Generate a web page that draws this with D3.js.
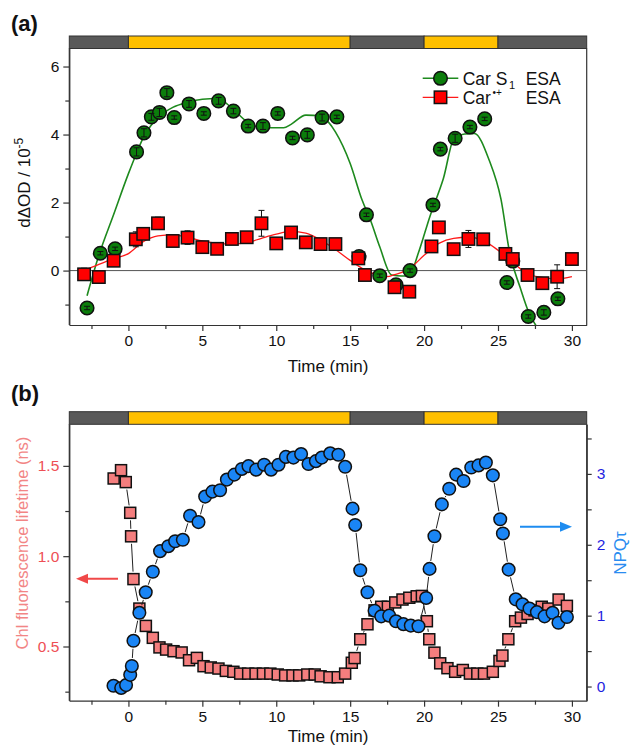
<!DOCTYPE html>
<html><head><meta charset="utf-8">
<script src="https://cdn.jsdelivr.net/npm/d3@7"></script>
<style>
html,body{margin:0;padding:0;background:#fff;}
svg{display:block;font-family:"Liberation Sans",Arial,Helvetica,sans-serif;}
</style></head>
<body>
<svg id="chart" width="639" height="748"></svg>
<script>
// ---------------- DATA ----------------
// light / dark periods (min)
const periodStart = [-4, 0, 15, 20, 25];
const periodEnd   = [0, 15, 20, 25, 31];
const periodLight = [false, true, false, true, false];

// Panel (a): Car S1 ESA (green circles)
const s1T   = [-2.8, -1.9, -0.9, 0.55, 1.05, 1.55, 2.1, 2.6, 3.1, 4.1, 5.1, 6.1, 7.1, 8.1, 9.1, 10.1, 11.1, 12.1, 13.1, 14.1, 15.6, 16.1, 17.0, 18.1, 19.05, 20.6, 21.1, 22.1, 23.1, 24.1, 25.6, 26.0, 27.05, 28.1, 29.05];
const s1V   = [-1.10, 0.51, 0.64, 3.49, 4.05, 4.52, 4.65, 5.23, 4.50, 4.90, 4.62, 4.99, 4.69, 4.25, 4.25, 4.62, 3.90, 3.99, 4.50, 4.52, 0.41, 1.64, -0.15, -0.42, 0.0, 1.93, 3.57, 3.89, 4.22, 4.46, -0.35, 0.28, -1.35, -1.23, -0.83];
const s1Err = [0.05, 0.05, 0.05, 0.12, 0.12, 0.1, 0.12, 0.12, 0.05, 0.1, 0.05, 0.1, 0.08, 0.05, 0.1, 0.05, 0.05, 0.1, 0.1, 0.05, 0.05, 0.05, 0.05, 0.08, 0.05, 0.05, 0.05, 0.12, 0.05, 0.05, 0.05, 0.05, 0.05, 0.08, 0.05];
// fitted curve for S1
const s1FitT = [-2.8, -2, -1, 0, 0.5, 1, 1.5, 2, 3, 4, 5, 6, 7, 8, 9, 10, 10.5, 11, 12, 13, 13.5, 14, 15, 15.8, 16.4, 17, 17.8, 18.5, 19, 19.6, 20.4, 21.3, 22.1, 23.4, 24.4, 25.2, 25.8, 26.5, 27.1, 27.7];
const s1FitV = [-0.74, 0.45, 1.65, 2.85, 3.4, 3.9, 4.25, 4.5, 4.8, 4.95, 5.04, 5.06, 4.78, 4.38, 4.2, 4.2, 4.2, 4.3, 4.57, 4.55, 4.38, 4.08, 3.15, 2.08, 1.45, 0.7, -0.13, -0.16, -0.15, 0.5, 1.6, 2.7, 3.96, 4.03, 3.25, 2.1, 0.5, -0.5, -1.25, -1.7];

// Panel (a): Car•+ ESA (red squares)
const catT   = [-3.0, -2.0, -1.0, 0.5, 1.0, 2.0, 3.0, 4.0, 5.0, 6.0, 7.0, 8.0, 9.0, 10.0, 11.0, 12.0, 13.0, 14.0, 15.55, 16.0, 18.0, 19.0, 20.5, 21.0, 22.0, 23.0, 24.0, 25.5, 26.0, 27.0, 28.0, 29.0, 30.0];
const catV   = [-0.11, -0.19, 0.29, 0.92, 1.08, 1.39, 0.87, 0.97, 0.69, 0.64, 0.93, 0.98, 1.39, 0.80, 1.12, 0.83, 0.78, 0.78, 0.36, -0.13, -0.49, -0.62, 0.71, 1.27, 0.63, 0.93, 0.92, 0.49, 0.34, -0.13, -0.37, -0.18, 0.34];
const catErr = [0.18, 0.1, 0.15, 0.22, 0.15, 0.18, 0.12, 0.2, 0.1, 0.1, 0.1, 0.1, 0.38, 0.1, 0.1, 0.1, 0.08, 0.15, 0.15, 0.1, 0.12, 0.08, 0.08, 0.12, 0.08, 0.25, 0.1, 0.1, 0.15, 0.08, 0.1, 0.35, 0.08];
const catFitT = [-3, -2, -1, 0, 1, 2, 3, 4, 5, 6, 7, 8, 9, 10, 11, 12, 13, 14, 15, 16, 17, 17.5, 18, 19, 20, 21, 22, 23, 24, 25, 26, 27, 28, 29, 30];
const catFitV = [0.0, 0.18, 0.35, 0.5, 0.85, 1.02, 1.05, 0.98, 0.87, 0.8, 0.78, 0.82, 0.95, 1.07, 1.15, 1.1, 0.9, 0.62, 0.3, 0.02, -0.15, -0.18, -0.12, 0.05, 0.45, 0.8, 0.95, 0.98, 0.88, 0.6, 0.25, -0.1, -0.2, -0.25, -0.18];

// Panel (b): Chl fluorescence lifetime (ns)
const lifeT = [-1.0, -0.5, -0.18, 0.12, 0.18, 0.34, 0.74, 1.18, 1.65, 2.1, 2.55, 3.05, 3.6, 4.1, 4.63, 5.08, 5.57, 6.09, 6.59, 7.1, 7.56, 8.1, 8.6, 9.1, 9.6, 10.1, 10.6, 11.1, 11.55, 12.1, 12.6, 13.0, 13.6, 14.16, 14.66, 15.11, 15.3, 15.68, 16.17, 16.65, 17.1, 17.55, 18.05, 18.54, 19.0, 19.5, 19.85, 20.19, 20.35, 20.7, 21.09, 21.58, 22.1, 22.62, 23.1, 23.6, 24.05, 24.65, 25.1, 25.3, 25.7, 26.16, 26.55, 27.0, 27.47, 27.96, 28.4, 29.1, 29.66];
const lifeV = [1.43, 1.476, 1.41, 1.24, 1.11, 0.873, 0.71, 0.614, 0.548, 0.495, 0.483, 0.474, 0.467, 0.424, 0.437, 0.391, 0.384, 0.378, 0.365, 0.36, 0.35, 0.35, 0.35, 0.35, 0.35, 0.345, 0.34, 0.34, 0.34, 0.345, 0.345, 0.335, 0.33, 0.33, 0.35, 0.41, 0.436, 0.54, 0.623, 0.70, 0.72, 0.72, 0.744, 0.76, 0.77, 0.778, 0.78, 0.64, 0.54, 0.466, 0.407, 0.38, 0.36, 0.37, 0.35, 0.35, 0.35, 0.36, 0.42, 0.45, 0.54, 0.64, 0.66, 0.68, 0.70, 0.72, 0.71, 0.76, 0.725];

// Panel (b): NPQτ
const npqT = [-1.01, -0.49, -0.16, 0.12, 0.23, 0.34, 0.74, 1.17, 1.65, 2.14, 2.7, 3.16, 3.68, 4.17, 4.74, 5.19, 5.68, 6.2, 6.66, 7.17, 7.67, 8.12, 8.64, 9.18, 9.65, 10.15, 10.65, 11.16, 11.68, 12.18, 12.68, 13.08, 13.65, 14.2, 14.66, 15.16, 15.34, 15.68, 16.17, 16.65, 17.1, 17.64, 18.1, 18.6, 19.1, 19.62, 20.14, 20.37, 20.7, 21.2, 21.7, 22.17, 22.67, 23.19, 23.68, 24.18, 24.65, 25.15, 25.33, 25.72, 26.2, 26.66, 27.13, 27.63, 28.15, 28.69, 29.09, 29.66];
const npqV = [0.01, -0.02, 0.02, 0.165, 0.29, 0.645, 1.04, 1.33, 1.62, 1.91, 1.98, 2.05, 2.07, 2.41, 2.32, 2.68, 2.75, 2.77, 2.92, 2.99, 3.07, 3.11, 3.06, 3.13, 3.06, 3.13, 3.24, 3.23, 3.28, 3.14, 3.18, 3.23, 3.29, 3.27, 3.10, 2.51, 2.28, 1.64, 1.33, 1.07, 0.99, 1.0, 0.92, 0.88, 0.86, 0.85, 1.25, 1.66, 2.12, 2.57, 2.79, 2.99, 2.90, 3.09, 3.12, 3.16, 2.98, 2.36, 2.16, 1.65, 1.23, 1.16, 1.10, 1.05, 0.99, 1.04, 0.90, 0.98];

// ticks
const xMajor = [0, 5, 10, 15, 20, 25, 30];
const xMinor = [-2.5, 2.5, 7.5, 12.5, 17.5, 22.5, 27.5];
const aMajor = [0, 2, 4, 6];
const aMinor = [-1, 1, 3, 5];
const lifeMajor = [0.5, 1.0, 1.5];
const lifeMinor = [0.25, 0.75, 1.25];
const npqMajor = [0, 1, 2, 3];
const npqMinor = [0.5, 1.5, 2.5, 3.5];

// ---------------- DRAW ----------------
const svg = d3.select("#chart");
const L = 69.3, R = 586.7;
const x = d3.scaleLinear().domain([-4, 31]).range([L, R]);

const A = {top: 48.5, bottom: 325, barTop: 36};
const B = {top: 424.3, bottom: 700.7, barTop: 411.7};
const ya = d3.scaleLinear().domain([-1.6, 6.53]).range([A.bottom, A.top]);
const yl = d3.scaleLinear().domain([0.2, 1.73]).range([B.bottom, B.top]);
const yn = d3.scaleLinear().domain([-0.2, 3.7]).range([B.bottom, B.top]);

const axisCol = "#333";
const defs = svg.append("defs");
defs.append("clipPath").attr("id","clipA").append("rect")
  .attr("x", L).attr("y", A.top).attr("width", R-L).attr("height", A.bottom-A.top);

function styleAxis(g, color, fs) {
  g.selectAll("path").attr("stroke", axisCol).attr("stroke-width", 1.2);
  g.selectAll("line").attr("stroke", axisCol).attr("stroke-width", 1.2);
  g.selectAll("text").attr("fill", color).attr("font-size", fs)
   .attr("font-family", '"Liberation Sans",Arial,sans-serif');
}

function periodBar(top, bottom) {
  const g = svg.append("g");
  periodStart.forEach((s, i) => {
    g.append("rect").attr("x", x(s)).attr("y", top)
      .attr("width", x(periodEnd[i]) - x(s)).attr("height", bottom - top)
      .attr("fill", periodLight[i] ? "#FFC000" : "#595959")
      .attr("stroke", "#333").attr("stroke-width", 1);
  });
}

function xAxes(bottom) {
  const gM = svg.append("g").attr("transform", `translate(0,${bottom})`)
    .call(d3.axisBottom(x).tickValues(xMajor).tickSize(6).tickPadding(4).tickSizeOuter(0));
  styleAxis(gM, "#111", "15.5px");
  const gm = svg.append("g").attr("transform", `translate(0,${bottom})`)
    .call(d3.axisBottom(x).tickValues(xMinor).tickSize(4).tickFormat("").tickSizeOuter(0));
  styleAxis(gm, "#111", "15px");
  gm.select("path").remove();
}

function yAxisLeft(scale, major, minor, fmt, color) {
  const g = svg.append("g").attr("transform", `translate(${L},0)`)
    .call(d3.axisLeft(scale).tickValues(major).tickSize(6).tickPadding(4).tickSizeOuter(0).tickFormat(fmt));
  styleAxis(g, color, "15.5px");
  const g2 = svg.append("g").attr("transform", `translate(${L},0)`)
    .call(d3.axisLeft(scale).tickValues(minor).tickSize(4).tickFormat("").tickSizeOuter(0));
  styleAxis(g2, color, "15px"); g2.select("path").remove();
}
function yAxisRight(scale, major, minor, fmt, color) {
  const g = svg.append("g").attr("transform", `translate(${R},0)`)
    .call(d3.axisRight(scale).tickValues(major).tickSize(5).tickPadding(5).tickSizeOuter(0).tickFormat(fmt));
  styleAxis(g, color, "15.5px");
  const g2 = svg.append("g").attr("transform", `translate(${R},0)`)
    .call(d3.axisRight(scale).tickValues(minor).tickSize(5).tickFormat("").tickSizeOuter(0));
  styleAxis(g2, color, "15px"); g2.select("path").remove();
}

// ===== Panel (a) =====
svg.append("text").attr("x", 11).attr("y", 31).attr("font-size", "22px")
  .attr("font-weight", "bold").attr("fill", "#111").text("(a)");

svg.append("line").attr("x1", R).attr("x2", R).attr("y1", A.top).attr("y2", A.bottom)
  .attr("stroke", axisCol).attr("stroke-width", 1.2);
svg.append("line").attr("x1", L).attr("x2", R).attr("y1", ya(0)).attr("y2", ya(0))
  .attr("stroke", "#555").attr("stroke-width", 1);

xAxes(A.bottom);
yAxisLeft(ya, aMajor, aMinor, d3.format("d"), "#111");
svg.append("line").attr("x1", L).attr("x2", L).attr("y1", A.top).attr("y2", A.bottom)
  .attr("stroke", axisCol).attr("stroke-width", 1.2);
periodBar(A.barTop, A.top);

svg.append("text").attr("x", (L+R)/2).attr("y", 372).attr("text-anchor", "middle")
  .attr("font-size", "17px").attr("fill", "#111").text("Time (min)");
const ylabA = svg.append("text").attr("transform", `translate(30,${(A.top+A.bottom)/2 - 4}) rotate(-90)`)
  .attr("text-anchor", "middle").attr("font-size", "17px").attr("fill", "#111");
ylabA.append("tspan").text("dΔOD / 10");
ylabA.append("tspan").attr("dy", -7).attr("font-size", "12px").text("-5");

const plotA = svg.append("g").attr("clip-path", "url(#clipA)");
const lineA = d3.line().x(d => x(d[0])).y(d => ya(d[1])).curve(d3.curveMonotoneX);
plotA.append("path").datum(s1FitT.map((t, i) => [t, s1FitV[i]]))
  .attr("d", lineA).attr("fill", "none").attr("stroke", "#1E8A1E").attr("stroke-width", 1.6);
plotA.append("path").datum(catFitT.map((t, i) => [t, catFitV[i]]))
  .attr("d", lineA).attr("fill", "none").attr("stroke", "#FF1A1A").attr("stroke-width", 1.3);

function errBars(g, T, V, E, sc) {
  T.forEach((t, i) => {
    const cx = x(t), y1 = sc(V[i] - E[i]), y2 = sc(V[i] + E[i]);
    g.append("line").attr("x1", cx).attr("x2", cx).attr("y1", y1).attr("y2", y2)
      .attr("stroke", "#111").attr("stroke-width", 1);
    [y1, y2].forEach(yy => g.append("line").attr("x1", cx-3).attr("x2", cx+3)
      .attr("y1", yy).attr("y2", yy).attr("stroke", "#111").attr("stroke-width", 1));
  });
}

plotA.append("g").selectAll("circle").data(s1T).join("circle")
  .attr("cx", d => x(d)).attr("cy", (d, i) => ya(s1V[i])).attr("r", 6.8)
  .attr("fill", "#0B7D0B").attr("stroke", "#111").attr("stroke-width", 1.5);
errBars(plotA.append("g"), s1T, s1V, s1Err, ya);
errBars(plotA.append("g"), catT, catV, catErr, ya);
plotA.append("g").selectAll("rect").data(catT).join("rect")
  .attr("x", d => x(d) - 6.2).attr("y", (d, i) => ya(catV[i]) - 6.2).attr("width", 12.4).attr("height", 12.4)
  .attr("fill", "#FF0000").attr("stroke", "#111").attr("stroke-width", 1.5);

// legend
const lg = svg.append("g");
lg.append("line").attr("x1", 422.7).attr("x2", 458.3).attr("y1", 78.3).attr("y2", 78.3)
  .attr("stroke", "#1E8A1E").attr("stroke-width", 1.6);
lg.append("circle").attr("cx", 440.5).attr("cy", 78.3).attr("r", 6.8)
  .attr("fill", "#0B7D0B").attr("stroke", "#111").attr("stroke-width", 1.5);
lg.append("line").attr("x1", 422.7).attr("x2", 458.3).attr("y1", 97.3).attr("y2", 97.3)
  .attr("stroke", "#FF1A1A").attr("stroke-width", 1.3);
lg.append("rect").attr("x", 434.3).attr("y", 91.1).attr("width", 12.4).attr("height", 12.4)
  .attr("fill", "#FF0000").attr("stroke", "#111").attr("stroke-width", 1.5);
const lfs = "17.5px";
lg.append("text").attr("x", 462.7).attr("y", 84.5).attr("font-size", lfs).attr("fill", "#111").text("Car S");
lg.append("text").attr("x", 509).attr("y", 89).attr("font-size", "11px").attr("fill", "#111").text("1");
lg.append("text").attr("x", 525.7).attr("y", 84.5).attr("font-size", lfs).attr("fill", "#111").text("ESA");
lg.append("text").attr("x", 462.7).attr("y", 103.5).attr("font-size", lfs).attr("fill", "#111").text("Car");
lg.append("text").attr("x", 492.5).attr("y", 96).attr("font-size", "10px").attr("fill", "#111").text("•+");
lg.append("text").attr("x", 525.7).attr("y", 103.5).attr("font-size", lfs).attr("fill", "#111").text("ESA");

// ===== Panel (b) =====
svg.append("text").attr("x", 11).attr("y", 401).attr("font-size", "22px")
  .attr("font-weight", "bold").attr("fill", "#111").text("(b)");

xAxes(B.bottom);
yAxisLeft(yl, lifeMajor, lifeMinor, d3.format(".1f"), "#EE4F55");
yAxisRight(yn, npqMajor, npqMinor, d3.format("d"), "#1F1FE0");
svg.append("line").attr("x1", L).attr("x2", L).attr("y1", B.top).attr("y2", B.bottom)
  .attr("stroke", axisCol).attr("stroke-width", 1.2);
svg.append("line").attr("x1", R).attr("x2", R).attr("y1", B.top).attr("y2", B.bottom)
  .attr("stroke", axisCol).attr("stroke-width", 1.2);
periodBar(B.barTop, B.top);

svg.append("text").attr("x", (L+R)/2).attr("y", 742).attr("text-anchor", "middle")
  .attr("font-size", "17px").attr("fill", "#111").text("Time (min)");
svg.append("text").attr("transform", `translate(28,543) rotate(-90)`)
  .attr("text-anchor", "middle").attr("font-size", "16.5px").attr("fill", "#F28585")
  .text("Chl fluorescence lifetime (ns)");
svg.append("text").attr("transform", `translate(626,553) rotate(-90)`)
  .attr("text-anchor", "middle").attr("font-size", "17px").attr("fill", "#2A8CF0")
  .text("NPQτ");

// connecting lines with gaps near symbols (Origin style)
function gapLines(T, V, sc, gap) {
  const g = svg.append("g");
  for (let i = 0; i < T.length - 1; i++) {
    const x1 = x(T[i]), y1 = sc(V[i]), x2 = x(T[i+1]), y2 = sc(V[i+1]);
    const dx = x2 - x1, dy = y2 - y1, len = Math.hypot(dx, dy);
    if (len <= 2 * gap + 1) continue;
    const ux = dx / len, uy = dy / len;
    g.append("line").attr("x1", x1 + ux*gap).attr("y1", y1 + uy*gap)
      .attr("x2", x2 - ux*gap).attr("y2", y2 - uy*gap)
      .attr("stroke", "#222").attr("stroke-width", 1);
  }
}
gapLines(lifeT, lifeV, yl, 7.5);
svg.append("g").selectAll("rect").data(lifeT).join("rect")
  .attr("x", d => x(d) - 5.5).attr("y", (d, i) => yl(lifeV[i]) - 5.5).attr("width", 11).attr("height", 11)
  .attr("fill", "#F47E7E").attr("stroke", "#111").attr("stroke-width", 1.5);
gapLines(npqT, npqV, yn, 8);
svg.append("g").selectAll("circle").data(npqT).join("circle")
  .attr("cx", d => x(d)).attr("cy", (d, i) => yn(npqV[i])).attr("r", 6.3)
  .attr("fill", "#1A85F5").attr("stroke", "#111").attr("stroke-width", 1.5);

// arrows
function arrow(x1, x2, yy, col) {
  const dir = Math.sign(x2 - x1);
  svg.append("line").attr("x1", x1).attr("x2", x2 - dir*9).attr("y1", yy).attr("y2", yy)
    .attr("stroke", col).attr("stroke-width", 2);
  svg.append("path").attr("d", `M${x2},${yy} L${x2 - dir*12},${yy-5} L${x2 - dir*12},${yy+5} Z`)
    .attr("fill", col);
}
arrow(118, 76, 578.7, "#F04848");
arrow(520, 572, 526.7, "#1E8CF0");
</script>
</body></html>
